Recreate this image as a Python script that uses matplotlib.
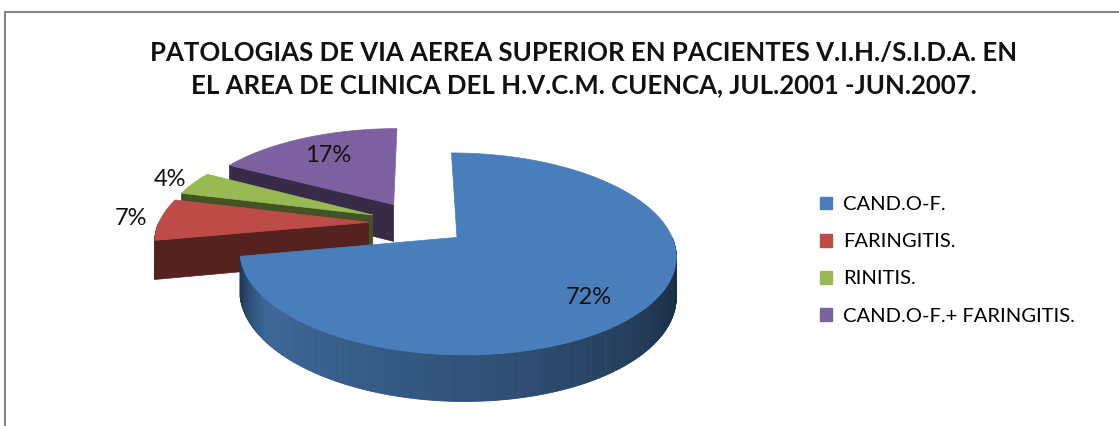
import numpy as np
import matplotlib
matplotlib.use("Agg")
import matplotlib.pyplot as plt
from matplotlib.patches import Polygon, Patch
from matplotlib.lines import Line2D

plt.rcParams['font.family'] = ['Lato', 'DejaVu Sans']

# =========================================================
# DATA
# =========================================================

title = ("PATOLOGIAS DE VIA AEREA SUPERIOR EN PACIENTES V.I.H./S.I.D.A. EN\n"
         "EL AREA DE CLINICA DEL H.V.C.M. CUENCA, JUL.2001 -JUN.2007.")
categories = ["CAND.O-F.", "FARINGITIS.", "RINITIS.", "CAND.O-F.+ FARINGITIS."]
percents = [72, 7, 4, 17]
colors = ["#4A7EBB", "#BE4B48", "#98B954", "#7D60A0"]

# =========================================================
# 3D PIE GEOMETRY (pixel space, y down)
# =========================================================

W, H = 1119, 426
CX, CY = 418, 223       # pie centre before explosion
RX, RY = 210, 93.6      # ellipse radii
PERSP = 0.16            # back smaller than front
DEPTH = 38              # side height
EXPLODE = 0.235


def proj(X, Y, z=0.0):
    p = 1.0 / (1.0 + PERSP * Y)
    return CX + RX * X * p, CY - RY * Y * p + DEPTH * z * p


def shade(c, f):
    rgb = np.array(matplotlib.colors.to_rgb(c))
    return tuple(np.clip(rgb * f, 0, 1))


def wall_shade(theta_deg):
    t = theta_deg % 360
    return np.interp(t, [180, 195, 215, 280, 345, 360],
                     [0.42, 0.45, 0.82, 0.62, 0.36, 0.36])


fig = plt.figure(figsize=(W / 100, H / 100), dpi=100)
fig.patch.set_facecolor("white")
ax = fig.add_axes([0, 0, 1, 1])
ax.set_xlim(0, W)
ax.set_ylim(H, 0)
ax.axis("off")

# clockwise from 12 o'clock
total = sum(percents)
spans = [v / total * 360 for v in percents]
slices = []
end = 90.0
for v, s, c in zip(percents, spans, colors):
    t1, t2 = end - s, end
    mid = np.radians((t1 + t2) / 2)
    ox, oy = EXPLODE * np.cos(mid), EXPLODE * np.sin(mid)
    slices.append(dict(v=v, t1=t1, t2=t2, mid=mid, ox=ox, oy=oy, c=c))
    end = t1

# back to front
order = sorted(slices, key=lambda d: -d["oy"])

for sl in order:
    ox, oy, c = sl["ox"], sl["oy"], sl["c"]
    t1, t2 = sl["t1"], sl["t2"]

    def rim(t, z=0.0):
        a = np.radians(t)
        return proj(ox + np.cos(a), oy + np.sin(a), z)

    apex_top = proj(ox, oy, 0)
    apex_bot = proj(ox, oy, 1)

    # radial cut faces facing the viewer
    if np.cos(np.radians(t1)) > 1e-6:
        face = [apex_top, rim(t1), rim(t1, 1), apex_bot]
        ax.add_patch(Polygon(face, closed=True, fc=shade(c, 0.45),
                             ec=shade(c, 0.45), lw=0.5))
    if np.cos(np.radians(t2)) < -1e-6:
        face = [apex_top, rim(t2), rim(t2, 1), apex_bot]
        ax.add_patch(Polygon(face, closed=True, fc=shade(c, 0.45),
                             ec=shade(c, 0.45), lw=0.5))

    # outer wall, front half only
    ts = np.linspace(t1, t2, max(int((t2 - t1) * 2), 2) + 1)
    for a, b in zip(ts[:-1], ts[1:]):
        m = (a + b) / 2
        if np.sin(np.radians(m)) >= 0:
            continue
        col = shade(c, wall_shade(m))
        quad = [rim(a), rim(b), rim(b, 1), rim(a, 1)]
        ax.add_patch(Polygon(quad, closed=True, fc=col, ec=col, lw=0.6))

    # top face
    top = [apex_top] + [rim(t) for t in np.linspace(t1, t2, 200)]
    ax.add_patch(Polygon(top, closed=True, fc=c, ec=c, lw=0.5))

    # data label
    frac = sl["v"] / total
    r = 0.72 if frac > 0.1 else 1.14
    lx, ly = proj(ox + r * np.cos(sl["mid"]), oy + r * np.sin(sl["mid"]))
    if frac > 0.5:
        ly += 11
    ax.text(lx, ly, f"{sl['v']}%", ha="center", va="center",
            fontsize=17, color="#111111")

# =========================================================
# TITLE, LEGEND, FRAME
# =========================================================

fig.text(584 / W, 1 - 69 / H, title, ha="center", va="center",
         fontsize=18.5, fontweight="bold", linespacing=1.45, color="#111111")

handles = [Patch(facecolor=c, edgecolor=c) for c in colors]
fig.legend(handles, categories, loc="upper left",
           bbox_to_anchor=(802 / W, 1 - 178 / H), frameon=False,
           fontsize=14.5, handlelength=0.6, handleheight=0.6,
           handletextpad=0.55, labelspacing=1.0)

fig.add_artist(Line2D([5 / W, 1], [1 - 12 / H, 1 - 12 / H],
                      transform=fig.transFigure, color="#868686", lw=1.5))
fig.add_artist(Line2D([5 / W, 5 / W], [0, 1 - 12 / H],
                      transform=fig.transFigure, color="#868686", lw=1.5))

fig.savefig("out.png", dpi=100)
plt.close(fig)
